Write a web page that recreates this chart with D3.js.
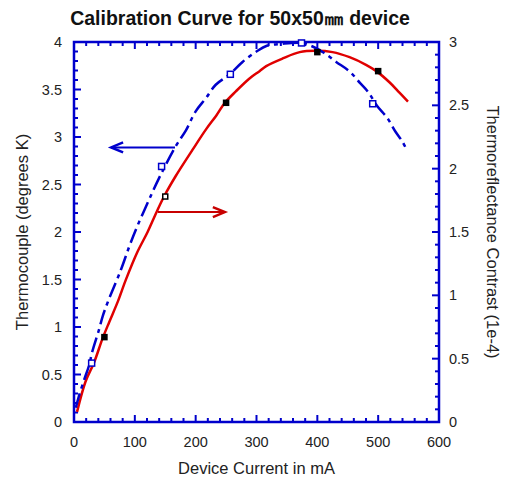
<!DOCTYPE html>
<html><head><meta charset="utf-8">
<script src="https://cdn.jsdelivr.net/npm/d3@7"></script>
<style>body{margin:0;background:#fff}svg{display:block}text{font-family:"Liberation Sans",Arial,sans-serif}</style>
</head><body><svg id="c" width="508" height="483"></svg>
<script>
// Blue dash-dot curve: Thermocouple (degrees K), left axis
const blueX = [3,8,17,25,30,41,47,56,77,91,104,122,140,167,184,200,217,233,256,277,300,317,340,374,393,410,431,453,470,484,498,515,528,540,548];
const blueY = [0.15,0.27,0.45,0.6,0.74,0.97,1.11,1.27,1.6,1.85,2.06,2.32,2.57,2.9,3.07,3.27,3.41,3.55,3.66,3.79,3.9,3.96,3.98,3.99,3.95,3.89,3.79,3.69,3.57,3.47,3.33,3.2,3.06,2.95,2.85];
const blueMarkX = [29,144,257,374,491];
const blueMarkY = [0.62,2.69,3.66,3.99,3.35];
// Red solid curve: Thermoreflectance Contrast (1e-4), right axis
const redX = [5,19,33,47,58,72,85,104,121,136,148,167,195,217,234,248,266,288,305,316,343,371,398,425,453,480,497,519,535,549];
const redY = [0.08,0.32,0.47,0.66,0.79,0.95,1.12,1.34,1.5,1.66,1.78,1.94,2.15,2.31,2.42,2.52,2.61,2.71,2.77,2.81,2.87,2.92,2.93,2.92,2.88,2.82,2.77,2.68,2.6,2.53];
const blackMarkX = [50,150,250,400,500];
const blackMarkY = [0.67,1.78,2.52,2.92,2.77];
// Annotation arrows (left-axis units): [xFrom, xTo, y]
const blueArrow = [166, 61, 2.89];
const redArrow = [138, 248, 2.21];
// Ticks
const xTicks = [0,100,200,300,400,500,600];
const leftTicks = [0,0.5,1,1.5,2,2.5,3,3.5,4];
const rightTicks = [0,0.5,1,1.5,2,2.5,3];

const W=508,H=483, L=74, R=439, T=42, B=422;
const BLUE="#0000CC", RED="#E00000", ARED="#C80000";
const svg=d3.select("#c");
const x=d3.scaleLinear().domain([0,600]).range([L,R]);
const yL=d3.scaleLinear().domain([0,4]).range([B,T]);
const yR=d3.scaleLinear().domain([0,3]).range([B,T]);

// title
svg.append("text").attr("x",240).attr("y",25).attr("text-anchor","middle")
  .attr("font-size",19.5).attr("font-weight","bold").attr("fill","#111").text("Calibration Curve for 50x50㎜ device");

// minor+major ticks
const g=svg.append("g").attr("stroke",BLUE).attr("stroke-width",2);
d3.range(0,601,20).forEach(v=>{
  const maj=v%100===0, len=maj?7:4;
  g.append("line").attr("x1",x(v)).attr("x2",x(v)).attr("y1",B).attr("y2",B-len);
  g.append("line").attr("x1",x(v)).attr("x2",x(v)).attr("y1",T).attr("y2",T+len);
});
d3.range(0,41).forEach(i=>{
  const v=i/10, maj=i%5===0, len=maj?7:4;
  g.append("line").attr("x1",L).attr("x2",L+len).attr("y1",yL(v)).attr("y2",yL(v));
});
d3.range(0,31).forEach(i=>{
  const v=i/10, maj=i%5===0, len=maj?7:4;
  g.append("line").attr("x1",R).attr("x2",R-len).attr("y1",yR(v)).attr("y2",yR(v));
});
svg.append("rect").attr("x",L).attr("y",T).attr("width",R-L).attr("height",B-T)
  .attr("fill","none").attr("stroke",BLUE).attr("stroke-width",2.5);

// tick labels
svg.append("g").selectAll("text").data(xTicks).join("text")
  .attr("x",d=>x(d)).attr("y",447).attr("text-anchor","middle").attr("font-size",14.5).attr("fill","#222").text(d=>d);
svg.append("g").selectAll("text").data(leftTicks).join("text")
  .attr("x",62).attr("y",d=>yL(d)+5).attr("text-anchor","end").attr("font-size",14.5).attr("fill","#222").text(d=>d);
svg.append("g").selectAll("text").data(rightTicks).join("text")
  .attr("x",449).attr("y",d=>yR(d)+5).attr("text-anchor","start").attr("font-size",14.5).attr("fill","#222").text(d=>d);

// axis titles
svg.append("text").attr("x",(L+R)/2).attr("y",474).attr("text-anchor","middle").attr("font-size",16.5).attr("fill","#222").text("Device Current in mA");
svg.append("text").attr("transform",`translate(28,${(T+B)/2}) rotate(-90)`).attr("text-anchor","middle").attr("font-size",16.5).attr("fill","#222").text("Thermocouple (degrees K)");
svg.append("text").attr("transform",`translate(487,${(T+B)/2}) rotate(90)`).attr("text-anchor","middle").attr("font-size",16.5).attr("fill","#222").text("Thermoreflectance Contrast (1e-4)");

// curves
const redData=redX.map((v,i)=>[v,redY[i]]);
const blueData=blueX.map((v,i)=>[v,blueY[i]]);
svg.append("path").datum(redData).attr("fill","none").attr("stroke",RED).attr("stroke-width",2.5)
  .attr("d",d3.line().x(d=>x(d[0])).y(d=>yR(d[1])).curve(d3.curveCatmullRom));
svg.append("path").datum(blueData).attr("fill","none").attr("stroke",BLUE).attr("stroke-width",2.5)
  .attr("stroke-dasharray","15,5,4,5")
  .attr("d",d3.line().x(d=>x(d[0])).y(d=>yL(d[1])).curve(d3.curveCatmullRom));

// markers
svg.append("g").selectAll("rect").data(blueMarkX.map((v,i)=>[v,blueMarkY[i]])).join("rect")
  .attr("x",d=>x(d[0])-3).attr("y",d=>yL(d[1])-3).attr("width",6).attr("height",6)
  .attr("fill","#fff").attr("stroke",BLUE).attr("stroke-width",1.5);
svg.append("g").selectAll("rect").data(blackMarkX.map((v,i)=>[v,blackMarkY[i]])).join("rect")
  .attr("x",d=>x(d[0])-2.5).attr("y",d=>yR(d[1])-2.5).attr("width",5).attr("height",5)
  .attr("fill",(d,i)=>i===1?"#fff":"#000").attr("stroke","#000").attr("stroke-width",1.5);

// arrows
function arrow(a,color){
  const x1=x(a[0]), x2=x(a[1]), yy=yL(a[2]), dir=x2>x1?1:-1;
  svg.append("line").attr("x1",x1).attr("x2",x2).attr("y1",yy).attr("y2",yy).attr("stroke",color).attr("stroke-width",2);
  svg.append("path").attr("d",`M${x2-dir*12},${yy-5}L${x2},${yy}L${x2-dir*12},${yy+5}`)
    .attr("fill","none").attr("stroke",color).attr("stroke-width",2.5);
}
arrow(blueArrow,BLUE);
arrow(redArrow,ARED);
</script></body></html>
